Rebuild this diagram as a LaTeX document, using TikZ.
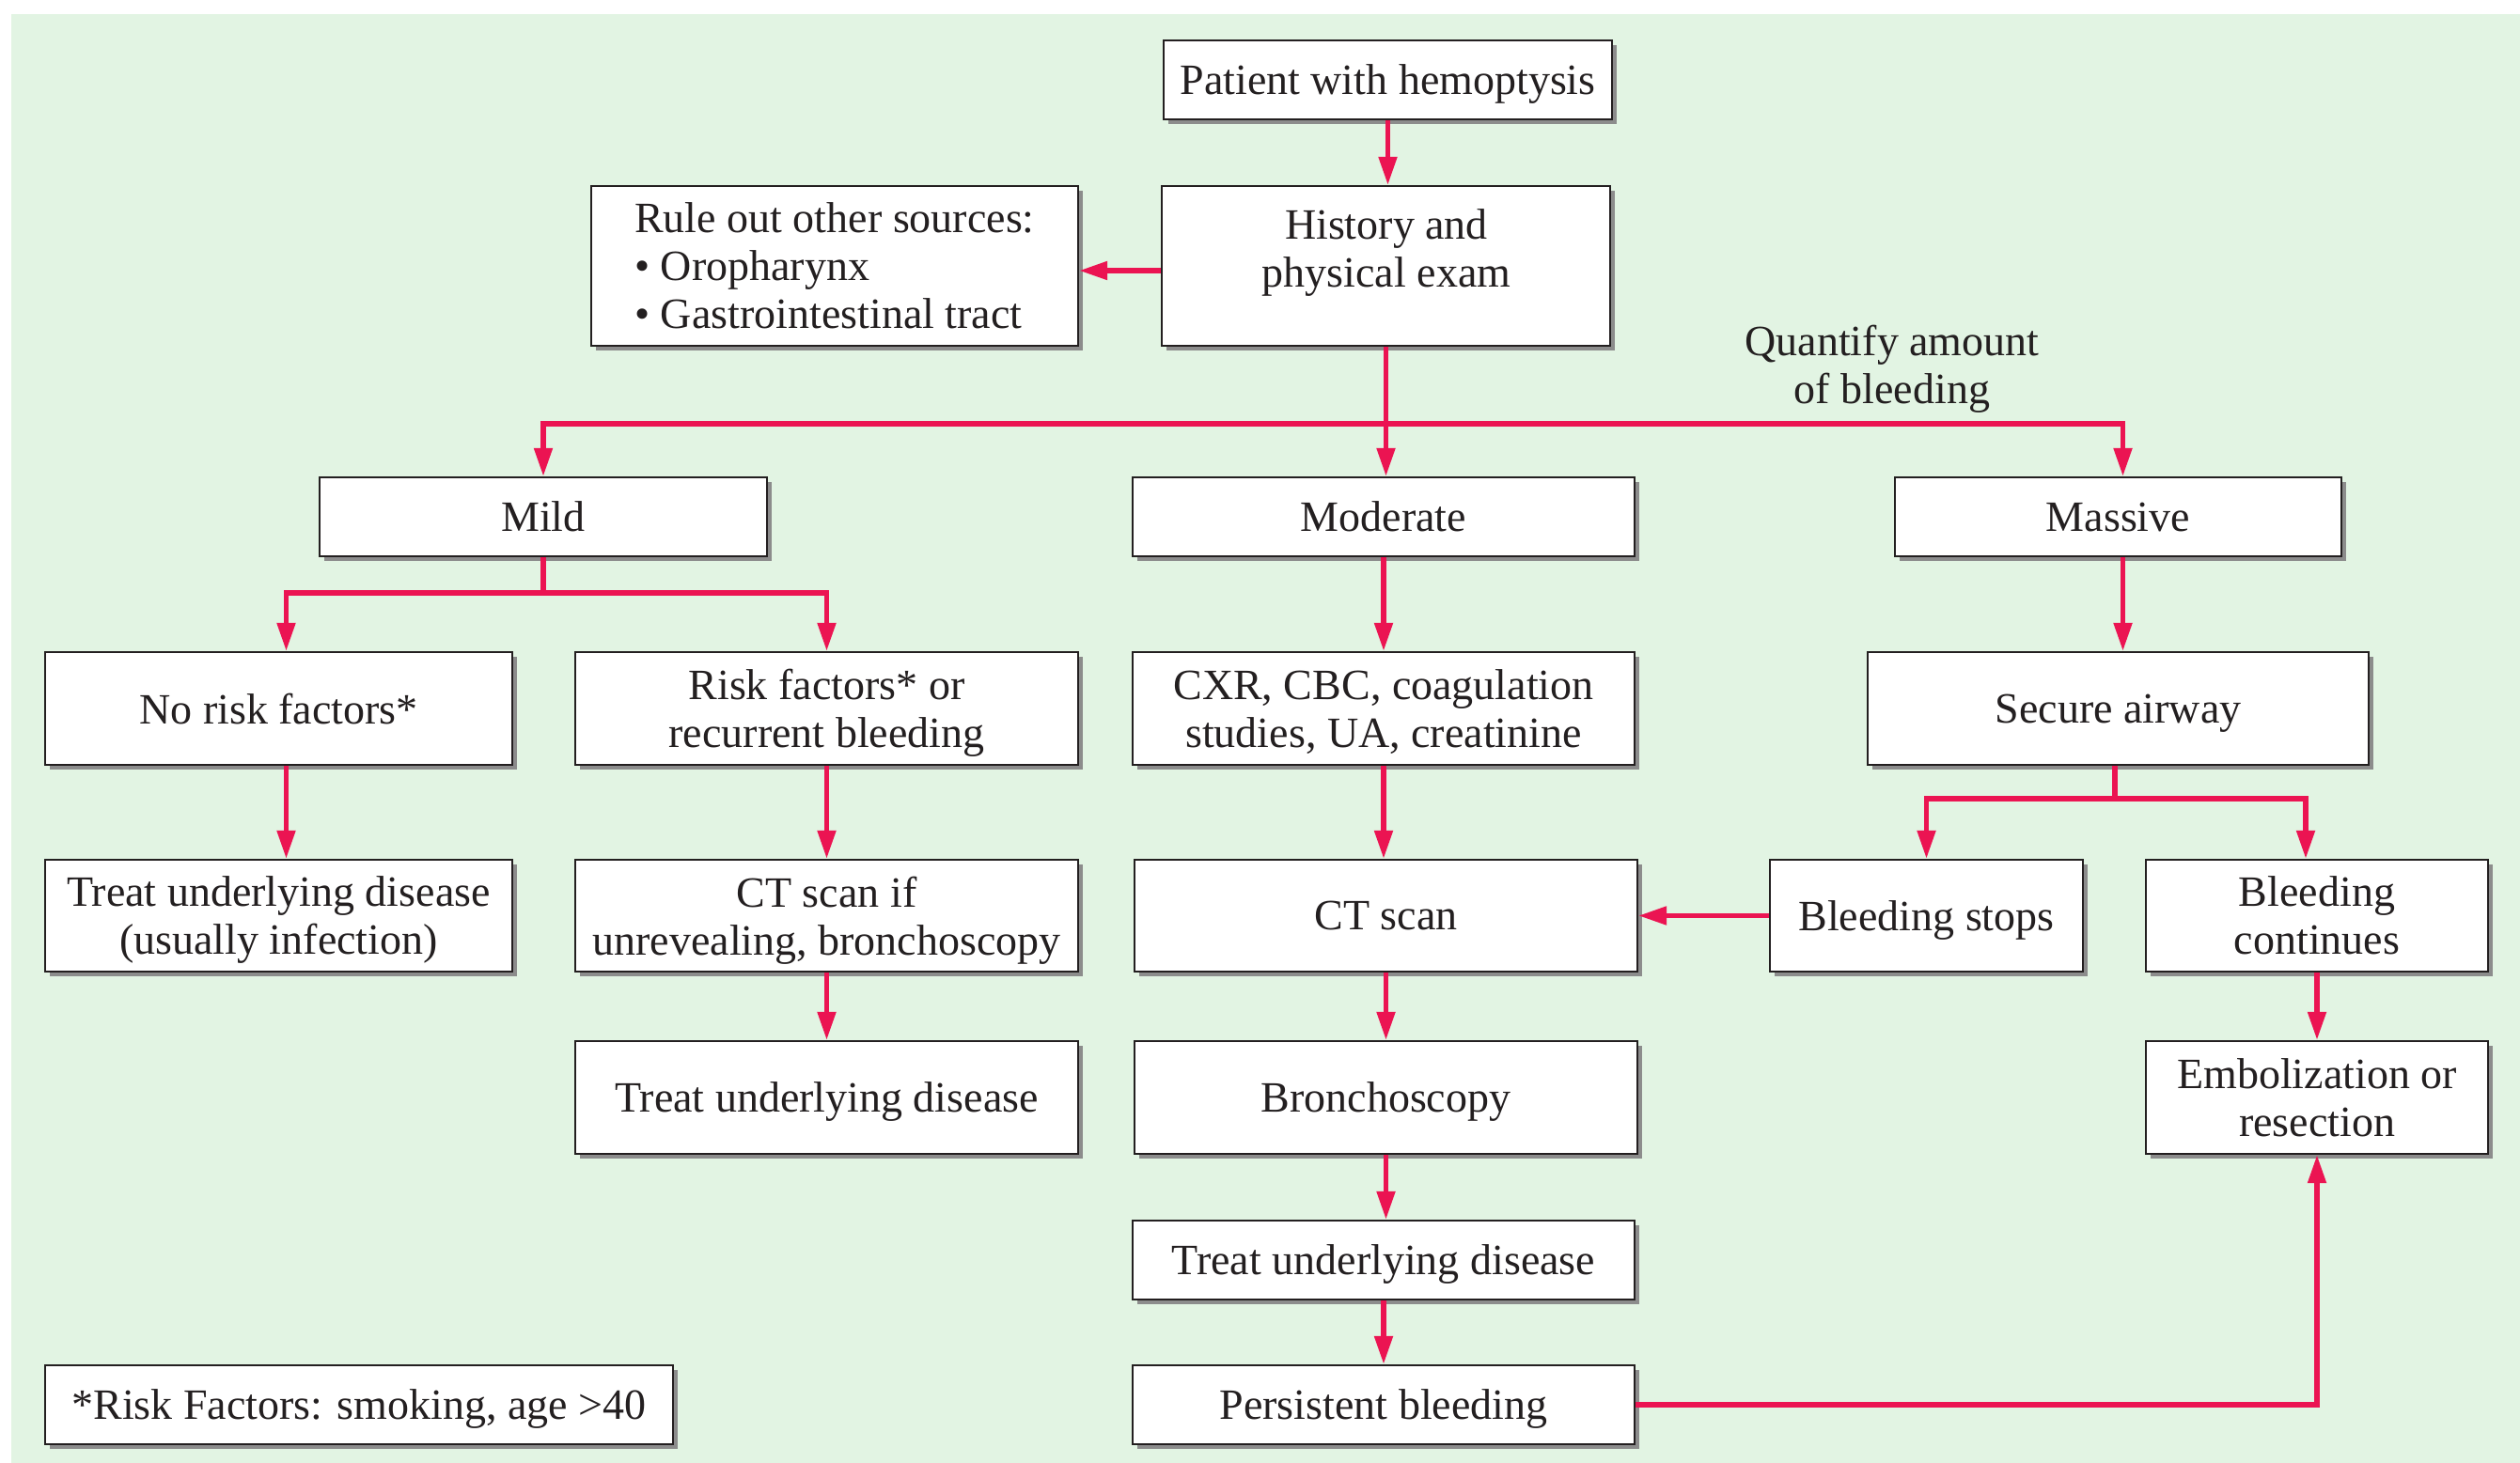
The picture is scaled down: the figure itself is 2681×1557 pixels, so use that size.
\documentclass[tikz,border=0pt]{standalone}
\usepackage{fontspec}
\setmainfont{Liberation Serif}
\usetikzlibrary{arrows.meta,shadows}
\definecolor{bgc}{RGB}{226,244,227}
\definecolor{pinkc}{RGB}{235,20,82}
\definecolor{inkc}{RGB}{35,31,32}
\definecolor{shadc}{RGB}{140,140,140}
\newcommand\fcbox[7][]{%
  \pgfmathsetmacro\fcx{(#3+#5)/2}%
  \pgfmathsetmacro\fcy{(#4+#6)/2}%
  \pgfmathsetmacro\fcw{(#5-#3)*0.5}%
  \pgfmathsetmacro\fch{(#6-#4)*0.5}%
  \node[box, minimum width=\fcw pt, minimum height=\fch pt, #1] (#2) at (\fcx,\fcy) {#7};}
\begin{document}
\begin{tikzpicture}[x=0.5pt,y=-0.5pt,
  txt/.style={font=\fontsize{23pt}{25.5pt}\selectfont, text=inkc, align=center, inner sep=0pt},
  box/.style={txt, text depth=0pt, draw=inkc, line width=1.2pt, fill=white,
    drop shadow={shadow xshift=2.4pt, shadow yshift=-2.4pt, fill=shadc, opacity=1}},
  link/.style={draw=pinkc, line width=2.6pt},
  arr/.style={link, -{Triangle[length=15pt,width=9.5pt]}}]
\useasboundingbox (0,0) rectangle (2681,1557);
\fill[bgc] (12,15) rectangle (2681,1557);
% boxes
\fcbox{patient}{1238}{43}{1715}{127}{Patient with hemoptysis}
\fcbox{history}{1236}{198}{1713}{368}{}
\node[txt] (histtext) at (1475,269) {History and\\physical exam};
\fcbox[align=left]{ruleout}{629}{198}{1147}{368}{Rule out other sources:\\\textbullet\ Oropharynx\\\textbullet\ Gastrointestinal tract}
\node[txt] (quant) at (2013,393) {Quantify amount\\of bleeding};
\fcbox{mild}{340}{508}{816}{592}{Mild}
\fcbox{moderate}{1205}{508}{1739}{592}{Moderate}
\fcbox{massive}{2016}{508}{2491}{592}{Massive}
\fcbox{norisk}{48}{694}{545}{814}{No risk factors*}
\fcbox{riskf}{612}{694}{1147}{814}{Risk factors* or\\recurrent bleeding}
\fcbox{cxr}{1205}{694}{1739}{814}{CXR, CBC, coagulation\\studies, UA, creatinine}
\fcbox{secure}{1987}{694}{2520}{814}{Secure airway}
\fcbox{treat1}{48}{915}{545}{1034}{Treat underlying disease\\(usually infection)}
\fcbox{ctif}{612}{915}{1147}{1034}{CT scan if\\unrevealing, bronchoscopy}
\fcbox{ct}{1207}{915}{1742}{1034}{CT scan}
\fcbox{bstops}{1883}{915}{2216}{1034}{Bleeding stops}
\fcbox{bcont}{2283}{915}{2647}{1034}{Bleeding\\continues}
\fcbox{treat2}{612}{1108}{1147}{1228}{Treat underlying disease}
\fcbox{bronch}{1207}{1108}{1742}{1228}{Bronchoscopy}
\fcbox{emb}{2283}{1108}{2647}{1228}{Embolization or\\resection}
\fcbox{treat3}{1205}{1299}{1739}{1383}{Treat underlying disease}
\fcbox{persist}{1205}{1453}{1739}{1537}{Persistent bleeding}
\fcbox{foot}{48}{1453}{716}{1537}{*Risk Factors: smoking, age >40}
% connectors
\coordinate (qsplit) at (1476,451);
\coordinate (msplit) at (578,631);
\coordinate (ssplit) at (2250,850);
\draw[arr] (patient.south) -- (patient.south |- history.north);
\draw[arr] ([yshift=-2.5pt]history.west) -- ([yshift=-2.5pt]ruleout.east);
\draw[arr] (history.south) -- (history.south |- moderate.north);
\draw[arr] (qsplit) -| (mild.north);
\draw[arr] (qsplit) -| ([xshift=2.5pt]massive.north);
\draw[link] (mild.south) -- (msplit);
\draw[arr] (msplit) -| ([xshift=4pt]norisk.north);
\draw[arr] (msplit) -| (riskf.north);
\draw[arr] ([xshift=4pt]norisk.south) -- ([xshift=4pt]treat1.north);
\draw[arr] (riskf) -- (ctif);
\draw[arr] (ctif) -- (treat2);
\draw[arr] (moderate.south) -- (moderate.south |- cxr.north);
\draw[arr] (cxr.south) -- (cxr.south |- ct.north);
\draw[arr] (ct) -- (bronch);
\draw[arr] (bronch.south) -- (bronch.south |- treat3.north);
\draw[arr] (treat3) -- (persist);
\draw[arr] ([xshift=2.5pt]massive.south) -- ([xshift=2.5pt]massive.south |- secure.north);
\draw[link] (secure.south -| ssplit) -- (ssplit);
\draw[arr] (ssplit) -| (bstops.north);
\draw[arr] (ssplit) -| ([xshift=-6pt]bcont.north);
\draw[arr] (bstops.west) -- (ct.east);
\draw[arr] (bcont) -- (emb);
\draw[arr] (persist.east) -| (emb.south);
\end{tikzpicture}
\end{document}
